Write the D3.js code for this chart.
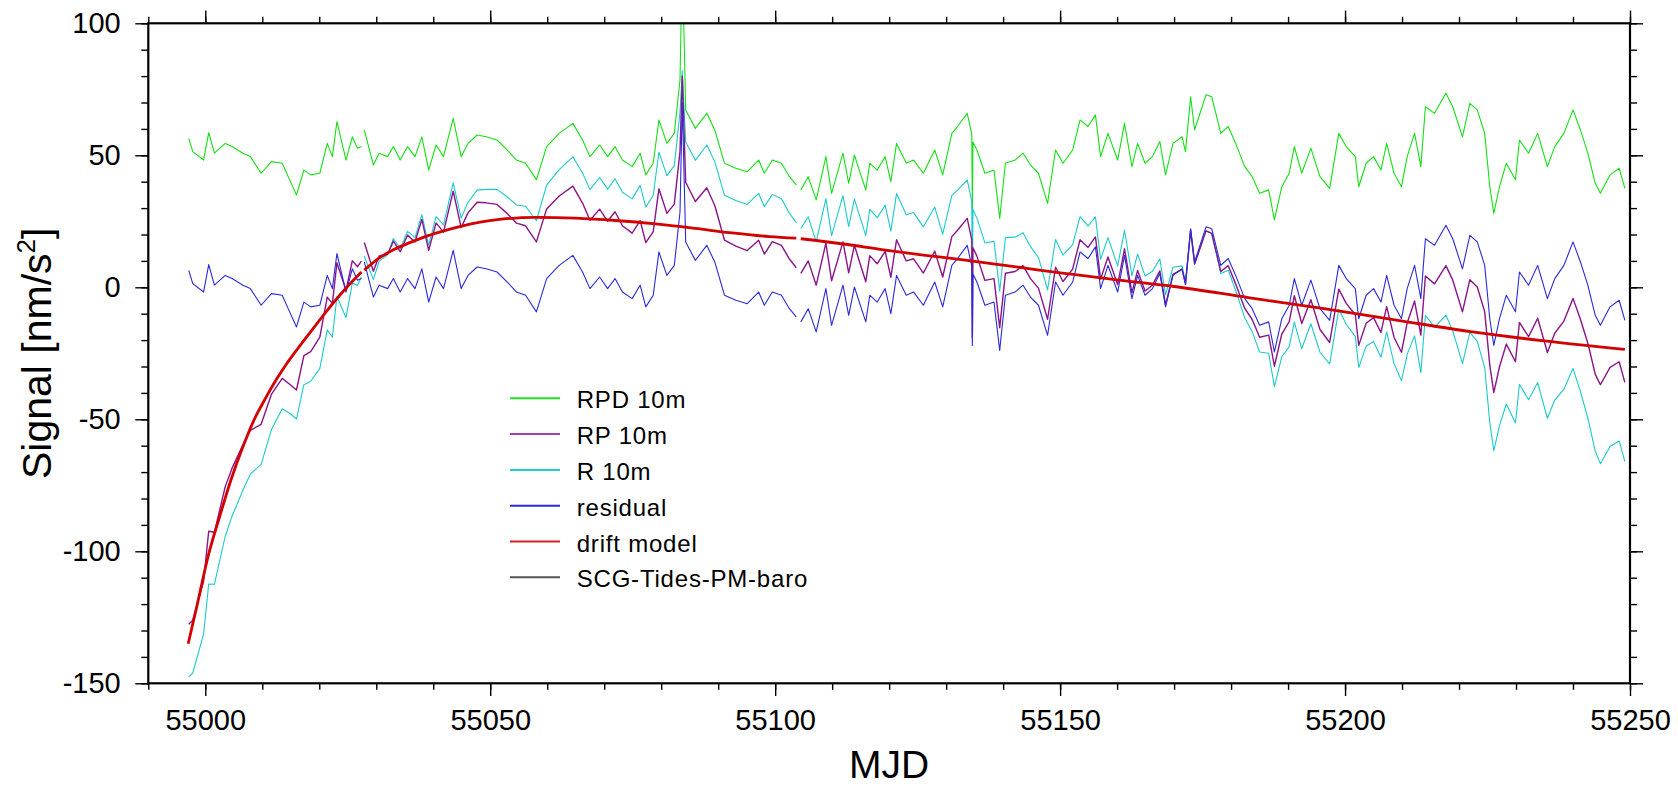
<!DOCTYPE html>
<html>
<head>
<meta charset="utf-8">
<script src="https://cdn.jsdelivr.net/npm/d3@7"></script>
<style>
	body { margin: 0; background: #fff; }
	svg { display: block; font-family: "Liberation Sans", Arial, Helvetica, sans-serif; }
</style>
</head>
<body>
<svg id="chart" width="1678" height="786"></svg>
<script>
// time axis shared by the four observed series (null = data gap)
const mjd = [
	54997.1, 54997.8, 54999.7, 55000.6, 55001.6, 55003.5, 55004.7, 55006.6, 55007.9, 55009.8,
	55011.6, 55013.5, 55014.8, 55016.0, 55017.3, 55018.5, 55020.1, 55021.4, 55022.3, 55023.1,
	55024.7, 55025.8, 55026.7, 55027.4, 55027.6, 55027.9, 55029.5, 55030.5, 55032.0, 55033.0,
	55034.2, 55035.5, 55036.8, 55038.0, 55039.2, 55040.5, 55041.8, 55043.5, 55044.9, 55046.1,
	55047.7, 55049.3, 55051.2, 55053.0, 55054.6, 55056.2, 55058.1, 55059.9, 55062.1, 55064.5,
	55066.2, 55067.5, 55069.2, 55070.6, 55071.9, 55073.2, 55074.9, 55076.3, 55077.3, 55078.6,
	55079.6, 55081.0, 55082.3, 55083.3, 55083.7, 55084.3, 55086.0, 55088.0, 55089.4, 55091.1,
	55093.1, 55095.1, 55097.1, 55098.1, 55099.5, 55101.1, 55102.5, 55103.7, 55104.1, 55104.5,
	55105.8, 55107.2, 55108.9, 55109.9, 55111.9, 55112.9, 55113.9, 55115.9, 55116.6, 55117.9,
	55119.3, 55120.3, 55121.3, 55123.0, 55124.3, 55126.0, 55128.0, 55129.4, 55131.0, 55132.0,
	55133.7, 55134.5, 55134.6, 55134.7, 55135.4, 55136.8, 55138.4, 55139.4, 55140.4, 55142.1,
	55143.5, 55144.8, 55146.2, 55147.8, 55149.2, 55150.5, 55152.2, 55153.5, 55154.9, 55156.2,
	55157.1, 55158.4, 55160.1, 55161.3, 55162.6, 55163.6, 55164.9, 55166.2, 55167.5, 55168.5,
	55169.8, 55171.4, 55172.0, 55172.9, 55173.6, 55175.6, 55176.6, 55178.2, 55179.5, 55180.8,
	55182.4, 55183.7, 55185.0, 55186.6, 55187.6, 55188.9, 55190.2, 55191.1, 55192.4, 55194.0,
	55195.6, 55197.3, 55198.9, 55200.2, 55201.8, 55202.4, 55203.7, 55205.0, 55206.3, 55207.3,
	55208.6, 55209.9, 55210.9, 55212.2, 55213.3, 55214.1, 55215.7, 55217.7, 55218.9, 55220.6,
	55221.9, 55223.2, 55224.5, 55225.4, 55226.1, 55227.1, 55228.3, 55229.9, 55230.6, 55232.2,
	55233.8, 55235.5, 55236.8, 55238.4, 55240.0, 55241.3, 55242.6, 55243.9, 55244.8, 55246.5,
	55248.1, 55249.1,
]

const rpd = [
	56.4, 51.4, 48.2, 58.6, 50.8, 54.5, 53.3, 50.8, 49.5, 43.2,
	47.6, 47.0, 40.7, 35.0, 44.4, 42.6, 43.2, 54.5, 49.5, 62.8,
	48.2, 57.0, 52.7, 53.3, null, 59.6, 46.3, 50.8, 49.5, 53.3,
	48.2, 53.3, 49.5, 57.0, 44.4, 53.9, 49.5, 64.0, 49.5, 54.5,
	57.7, 57.0, 55.8, 52.0, 48.2, 47.0, 40.7, 53.3, 58.3, 62.1,
	55.8, 49.5, 53.9, 49.5, 53.3, 48.2, 45.7, 50.8, 42.6, 47.0,
	63.4, 54.5, 58.3, 78.5, 125, 67.2, 60.2, 65.9, 59.6, 47.0,
	45.1, 43.8, 48.2, 43.2, 48.2, 47.0, 41.9, 38.8, null, 36.9,
	41.9, 33.1, 49.5, 35.6, 50.8, 39.4, 50.1, 36.9, 47.0, 44.4,
	49.5, 40.0, 54.5, 47.0, 48.2, 43.2, 52.0, 42.6, 58.3, 60.9,
	65.9, 58.0, 28.0, 55.0, 52.0, 43.2, 44.4, 26.1, 47.0, 48.2,
	50.8, 46.3, 43.2, 31.8, 52.0, 47.0, 52.0, 63.4, 60.9, 65.3,
	49.5, 58.3, 48.2, 62.1, 45.7, 54.5, 47.0, 49.5, 55.2, 42.6,
	54.5, 57.0, 51.4, 72.2, 59.6, 72.9, 72.2, 58.3, 60.9, 54.5,
	45.7, 41.9, 35.6, 36.9, 25.5, 38.1, 43.2, 53.3, 43.2, 52.7,
	41.9, 37.5, 58.3, 53.3, 49.5, 38.1, 47.0, 49.5, 44.4, 54.5,
	43.2, 38.1, 49.5, 58.3, 45.7, 68.4, 65.9, 73.5, 68.4, 57.0,
	69.7, 67.2, 58.3, 38.1, 28.0, 38.1, 47.0, 40.7, 55.8, 50.8,
	58.3, 45.7, 53.3, 58.3, 67.2, 59.6, 50.8, 39.4, 35.6, 42.6,
	45.1, 37.5,
]

const rp = [
	-127.6, -126.1, -111.4, -92.4, -92.8, -75.5, -68.5, -59.7, -54.2, -51.9,
	-40.6, -34.5, -36.7, -38.9, -25.9, -24.4, -18.9, -3.7, -6.2, 9.3,
	-1.2, 10.1, 7.8, 9.9, null, 17.0, 6.1, 11.9, 12.5, 17.5,
	13.5, 19.8, 17.2, 25.7, 14.0, 24.4, 20.9, 36.4, 22.6, 28.2,
	32.2, 32.0, 31.4, 27.9, 24.3, 23.3, 17.2, 29.7, 34.6, 38.3,
	31.9, 25.4, 29.6, 25.0, 28.6, 23.3, 20.5, 25.3, 16.9, 21.1,
	37.3, 28.0, 31.5, 51.4, 80, 39.8, 32.5, 37.7, 31.0, 17.9,
	15.6, 13.9, 17.8, 12.6, 17.3, 15.9, 10.7, 7.4, null, 5.3,
	10.0, 0.8, 16.7, 2.5, 17.2, 5.5, 15.9, 2.1, 12.0, 8.9,
	13.6, 3.8, 18.0, 10.0, 10.8, 5.4, 13.7, 3.9, 19.2, 21.6,
	26.1, 18.0, -19, 15.0, 11.8, 2.6, 3.3, -15.3, 5.3, 6.0,
	8.2, 3.3, -0.3, -12.1, 7.6, 2.2, 6.9, 18.0, 15.1, 19.1,
	3.1, 11.5, 1.0, 14.6, -2.1, 6.4, -1.4, 0.8, 6.2, -6.7,
	4.9, 6.8, 1.1, 21.6, 8.8, 21.4, 20.4, 6.0, 8.2, 1.3,
	-8.0, -12.2, -18.9, -18.1, -29.9, -17.7, -13.0, -3.2, -13.7, -4.7,
	-16.0, -20.9, -0.7, -6.1, -10.4, -22.0, -13.6, -11.5, -17.1, -7.3,
	-19.0, -24.6, -13.5, -5.2, -18.1, 4.3, 1.3, 8.2, 2.7, -9.3,
	2.9, 0.1, -9.2, -29.6, -39.9, -30.1, -21.5, -28.2, -13.3, -18.7,
	-11.7, -24.7, -17.4, -12.8, -4.2, -12.1, -21.2, -32.9, -36.9, -30.3,
	-28.2, -36.0,
]

const r = [
	-147.6, -146.1, -131.4, -112.4, -112.5, -94.3, -86.7, -76.9, -70.8, -67.1,
	-54.0, -46.0, -47.7, -49.9, -36.9, -35.6, -30.7, -16.1, -18.9, -3.5,
	-11.5, 1.6, 0.7, 4.0, null, 11.8, 2.9, 9.9, 12.3, 18.5,
	14.7, 21.2, 18.8, 27.5, 16.0, 26.8, 23.6, 39.6, 26.2, 32.2,
	36.8, 37.1, 37.1, 34.2, 31.2, 30.7, 25.2, 38.7, 44.6, 49.4,
	43.3, 37.0, 41.6, 37.2, 41.1, 36.0, 33.5, 38.6, 30.4, 34.8,
	51.2, 42.3, 46.1, 66.3, 82, 55.0, 48.1, 53.9, 47.6, 34.9,
	32.9, 31.4, 35.6, 30.5, 35.2, 33.5, 28.0, 24.5, null, 22.2,
	26.7, 17.3, 33.6, 19.6, 34.7, 23.0, 33.4, 19.6, 29.5, 26.4,
	31.1, 21.3, 35.5, 27.5, 28.3, 22.9, 30.4, 20.1, 34.8, 36.8,
	40.7, 32.5, -10, 29.5, 26.2, 16.8, 17.4, -1.4, 18.8, 19.0,
	20.7, 15.4, 11.3, -1.0, 18.1, 12.2, 16.2, 26.8, 23.3, 26.7,
	10.6, 18.8, 8.1, 21.6, 4.4, 12.6, 4.3, 6.1, 10.8, -2.9,
	7.6, 8.1, 1.9, 21.7, 8.8, 21.4, 20.4, 5.2, 6.5, -1.2,
	-11.6, -16.8, -24.5, -25.0, -37.6, -26.3, -22.5, -13.2, -23.3, -13.8,
	-24.6, -29.0, -8.3, -14.0, -18.6, -30.4, -22.3, -20.5, -26.5, -16.9,
	-28.9, -35.4, -25.4, -18.4, -32.3, -10.6, -15.2, -10.5, -16.5, -28.9,
	-17.1, -20.5, -30.4, -51.3, -61.9, -52.4, -44.2, -51.4, -36.7, -42.6,
	-36.1, -49.6, -42.7, -38.6, -30.7, -39.5, -49.5, -62.1, -66.8, -60.3,
	-58.2, -66.0,
]

const residual = [
	6.4, 1.4, -1.8, 8.6, 0.8, 4.5, 3.3, 0.8, -0.5, -6.8,
	-2.4, -3.0, -9.3, -15.0, -5.6, -7.4, -6.8, 4.5, -0.5, 12.8,
	-1.8, 7.0, 2.7, 3.3, null, 9.6, -3.7, 0.8, -0.5, 3.3,
	-1.8, 3.3, -0.5, 7.0, -5.6, 3.9, -0.5, 14.0, -0.5, 4.5,
	7.7, 7.0, 5.8, 2.0, -1.8, -3.0, -9.3, 3.3, 8.3, 12.1,
	5.8, -0.5, 3.9, -0.5, 3.3, -1.8, -4.3, 0.8, -7.4, -3.0,
	13.4, 4.5, 8.3, 28.5, 70, 17.2, 10.2, 15.9, 9.6, -3.0,
	-4.9, -6.2, -1.8, -6.8, -1.8, -3.0, -8.1, -11.2, null, -13.1,
	-8.1, -16.9, -0.5, -14.4, 0.8, -10.6, 0.1, -13.1, -3.0, -5.6,
	-0.5, -10.0, 4.5, -3.0, -1.8, -6.8, 2.0, -7.4, 8.3, 10.9,
	15.9, 8.0, -22, 5.0, 2.0, -6.8, -5.6, -23.9, -3.0, -1.8,
	0.8, -3.7, -6.8, -18.2, 2.0, -3.0, 2.0, 13.4, 10.9, 15.3,
	-0.5, 8.3, -1.8, 12.1, -4.3, 4.5, -3.0, -0.5, 5.2, -7.4,
	4.5, 7.0, 1.4, 22.2, 9.6, 22.9, 22.2, 8.3, 10.9, 4.5,
	-4.3, -8.1, -14.4, -13.1, -24.5, -11.9, -6.8, 3.3, -6.8, 2.7,
	-8.1, -12.5, 8.3, 3.3, -0.5, -11.9, -3.0, -0.5, -5.6, 4.5,
	-6.8, -11.9, -0.5, 8.3, -4.3, 18.4, 15.9, 23.5, 18.4, 7.0,
	19.7, 17.2, 8.3, -11.9, -22.0, -11.9, -3.0, -9.3, 5.8, 0.8,
	8.3, -4.3, 3.3, 8.3, 17.2, 9.6, 0.8, -10.6, -14.4, -7.4,
	-4.9, -12.5,
]

// drift model, read at fewer points (smooth curve)
const driftMjd = [
	54997.0, 54998.5, 55000.6, 55002.5, 55004.5, 55006.5, 55008.6, 55010.4, 55012.3, 55014.1,
	55016.3, 55018.5, 55021.3, 55024.2, 55027.4, 55027.6, 55027.9, 55030, 55033, 55036,
	55039, 55042, 55045, 55048, 55052, 55058, 55065, 55072, 55079, 55086,
	55092, 55099, 55103.7, 55104.1, 55104.5, 55112, 55119, 55126, 55133, 55140,
	55146, 55153, 55160, 55170, 55183, 55196, 55209, 55222, 55235, 55249.1,
]
const drift = [
	-135, -121, -101, -87, -73, -61, -50, -42.7, -35.5, -29.5,
	-23, -16.8, -9, -1.5, 5.8, null, 6.5, 10.3, 14.2, 17,
	19.5, 21.5, 23.2, 24.6, 25.8, 26.5, 26.2, 25.3, 24, 22.3,
	20.7, 19.2, 18.6, null, 18.4, 16.4, 14.2, 12.2, 10.4, 8.4,
	6.6, 4.7, 2.8, 0.3, -3.9, -8, -12.4, -16.8, -20.3, -23.5,
]

const xTicks = [55000, 55050, 55100, 55150, 55200, 55250]
const yTicks = [-150, -100, -50, 0, 50, 100]

const series = [
	{ name: 'RPD 10m', values: rpd, color: '#14e014', width: 1.1 },
	{ name: 'R 10m', values: r, color: '#1ccaca', width: 1.1 },
	{ name: 'RP 10m', values: rp, color: '#8a148a', width: 1.4 },
	{ name: 'residual', values: residual, color: '#2a2ad8', width: 1.1 },
]
const legendItems = [
	{ name: 'RPD 10m', color: '#22e022' },
	{ name: 'RP 10m', color: '#a23cb8' },
	{ name: 'R 10m', color: '#1cd0d0' },
	{ name: 'residual', color: '#2a2ad8' },
	{ name: 'drift model', color: '#d42020' },
	{ name: 'SCG-Tides-PM-baro', color: '#555555' },
]

const svg = d3.select('#chart')
const plotL = 148.3, plotR = 1630, plotT = 23.3, plotB = 683.3
const x = d3.scaleLinear().domain([54990, 55250]).range([plotL, plotR])
const y = d3.scaleLinear().domain([-150, 100]).range([plotB, plotT])

svg.append('clipPath').attr('id', 'plotclip')
	.append('rect')
	.attr('x', plotL).attr('y', plotT)
	.attr('width', plotR - plotL).attr('height', plotB - plotT)

const plot = svg.append('g').attr('clip-path', 'url(#plotclip)')

const line = d3.line()
	.defined(d => d[1] !== null)
	.x(d => x(d[0]))
	.y(d => y(d[1]))

series.forEach(s => {
	plot.append('path')
		.datum(mjd.map((t, i) => [t, s.values[i]]))
		.attr('d', line)
		.attr('fill', 'none')
		.attr('stroke', s.color)
		.attr('stroke-width', s.width)
		.attr('stroke-linejoin', 'round')
})

plot.append('path')
	.datum(driftMjd.map((t, i) => [t, drift[i]]))
	.attr('d', line.curve(d3.curveMonotoneX))
	.attr('fill', 'none')
	.attr('stroke', '#d40000')
	.attr('stroke-width', 2.8)

// axes: major + minor ticks on all four sides, labels only left & bottom
const minorX = d3.range(54990, 55251, 10)
const minorY = d3.range(-150, 101, 10)
const fmt = d => String(d)

const styleAxis = g => {
	g.select('.domain').remove()
	g.selectAll('line').attr('stroke', '#000').attr('stroke-width', 1.4)
	g.selectAll('text')
		.attr('fill', '#000')
		.style('font-size', '29px')
		.style('font-family', '"Liberation Sans", Arial, sans-serif')
}

svg.append('g').attr('transform', `translate(0,${plotB})`)
	.call(d3.axisBottom(x).tickValues(minorX).tickSize(6.5).tickFormat(''))
	.call(styleAxis)
svg.append('g').attr('transform', `translate(0,${plotB})`)
	.call(d3.axisBottom(x).tickValues(xTicks).tickSize(12.7).tickPadding(13.4).tickFormat(fmt))
	.call(styleAxis)
svg.append('g').attr('transform', `translate(0,${plotT})`)
	.call(d3.axisTop(x).tickValues(minorX).tickSize(6.5).tickFormat(''))
	.call(styleAxis)
svg.append('g').attr('transform', `translate(0,${plotT})`)
	.call(d3.axisTop(x).tickValues(xTicks).tickSize(12.7).tickFormat(''))
	.call(styleAxis)

svg.append('g').attr('transform', `translate(${plotL},0)`)
	.call(d3.axisLeft(y).tickValues(minorY).tickSize(7).tickFormat(''))
	.call(styleAxis)
svg.append('g').attr('transform', `translate(${plotL},0)`)
	.call(d3.axisLeft(y).tickValues(yTicks).tickSize(13).tickPadding(14.6).tickFormat(fmt))
	.call(styleAxis)
svg.append('g').attr('transform', `translate(${plotR},0)`)
	.call(d3.axisRight(y).tickValues(minorY).tickSize(7).tickFormat(''))
	.call(styleAxis)
svg.append('g').attr('transform', `translate(${plotR},0)`)
	.call(d3.axisRight(y).tickValues(yTicks).tickSize(13).tickFormat(''))
	.call(styleAxis)

svg.append('rect')
	.attr('x', plotL).attr('y', plotT)
	.attr('width', plotR - plotL).attr('height', plotB - plotT)
	.attr('fill', 'none')
	.attr('stroke', '#000')
	.attr('stroke-width', 2.2)

// axis titles
svg.append('text')
	.attr('x', (plotL + plotR) / 2)
	.attr('y', 778)
	.attr('text-anchor', 'middle')
	.style('font-size', '39px')
	.text('MJD')

const ytitle = svg.append('text')
	.attr('transform', `translate(51,${(plotT + plotB) / 2}) rotate(-90)`)
	.attr('text-anchor', 'middle')
	.style('font-size', '41px')
ytitle.append('tspan').text('Signal [nm/s')
ytitle.append('tspan').attr('dy', -16).style('font-size', '26px').text('2')
ytitle.append('tspan').attr('dy', 16).text(']')

// legend
const legend = svg.append('g').attr('transform', 'translate(510,398.3)')
legendItems.forEach((d, i) => {
	const row = legend.append('g').attr('transform', `translate(0,${i * 35.8})`)
	row.append('line')
		.attr('x1', 0).attr('x2', 50)
		.attr('stroke', d.color)
		.attr('stroke-width', 2)
	row.append('text')
		.attr('x', 66.7)
		.attr('y', 10)
		.style('font-size', '24px')
		.style('letter-spacing', '0.8px')
		.text(d.name)
})
</script>
</body>
</html>
